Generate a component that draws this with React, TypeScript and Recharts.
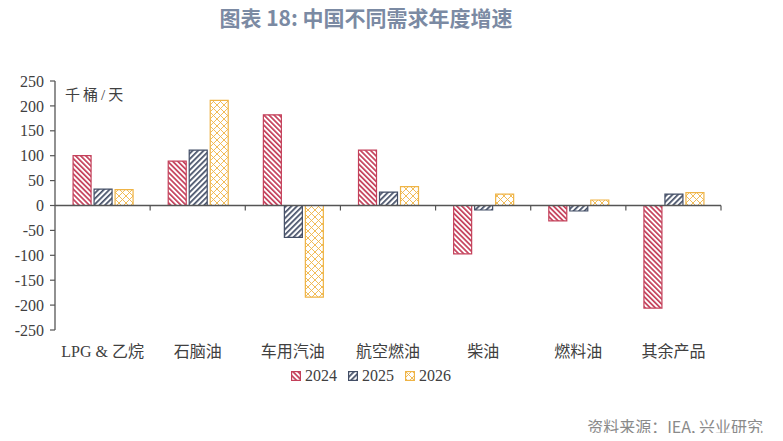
import React from 'react';
import { BarChart, Bar, XAxis, YAxis, ReferenceLine } from 'recharts';

const categories = ['LPG & 乙烷', '石脑油', '车用汽油', '航空燃油', '柴油', '燃料油', '其余产品'];
const v2024 = [100, 89, 182, 111, -97, -31, -206];
const v2025 = [33, 111, -64, 27, -9, -11, 23];
const v2026 = [32, 211, -184, 38, 23, 11, 26];
const seriesNames = ['2024', '2025', '2026'];
const yTicks = [250, 200, 150, 100, 50, 0, -50, -100, -150, -200, -250];

const COLORS = { '2024': '#c4405a', '2025': '#434e66', '2026': '#efb446' };
const AXIS = '#555555';
const TXT = '#404040';
const SERIF = '"Liberation Serif", "Noto Sans CJK SC", serif';

const data = categories.map((c, i) => ({ name: c, '2024': v2024[i], '2025': v2025[i], '2026': v2026[i] }));

const Patterns = ({ prefix }: { prefix: string }) => (
  <defs>
    <pattern id={`${prefix}p2024`} patternUnits="userSpaceOnUse" width="3.6" height="3.6" patternTransform="rotate(-45)">
      <rect x="0" y="0" width="3.6" height="3.6" fill="#ffffff" />
      <rect x="0" y="0" width="1.7" height="3.6" fill={COLORS['2024']} />
    </pattern>
    <pattern id={`${prefix}p2025`} patternUnits="userSpaceOnUse" width="3.9" height="3.9" patternTransform="rotate(45)">
      <rect x="0" y="0" width="3.9" height="3.9" fill="#ffffff" />
      <rect x="0" y="0" width="1.7" height="3.9" fill={COLORS['2025']} />
    </pattern>
    <pattern id={`${prefix}p2026`} patternUnits="userSpaceOnUse" width="7" height="7">
      <rect x="0" y="0" width="7" height="7" fill="#ffffff" />
      <path d="M0,0 L7,7 M7,0 L0,7" stroke={COLORS['2026']} strokeWidth="0.9" fill="none" />
    </pattern>
  </defs>
);

const ZeroAxis = (props: any) => {
  const { x1, y1, x2, y2 } = props;
  const n = categories.length;
  const ticks = [];
  for (let i = 1; i <= n; i++) {
    const x = x1 + ((x2 - x1) * i) / n;
    ticks.push(<line key={i} x1={x} y1={y1} x2={x} y2={y1 + 5} stroke={AXIS} strokeWidth={1.2} />);
  }
  return (
    <g>
      <line x1={x1} y1={y1} x2={x2} y2={y2} stroke={AXIS} strokeWidth={1.3} />
      {ticks}
    </g>
  );
};

export default function App() {
  return (
    <div style={{ position: 'relative', width: 783, height: 441, margin: -8, background: '#ffffff', overflow: 'hidden' }}>
      <div
        style={{
          position: 'absolute',
          left: 0,
          top: 3,
          width: 732,
          textAlign: 'center',
          fontFamily: '"Noto Sans CJK SC", sans-serif',
          fontWeight: 700,
          fontSize: 21,
          color: '#7b8aa3',
          lineHeight: '28px',
        }}
      >
        图表 18: 中国不同需求年度增速
      </div>
      <BarChart
        width={783}
        height={441}
        data={data}
        margin={{ top: 81, right: 62, bottom: 81, left: 0 }}
        barCategoryGap="19%"
        barGap={3}
      >
        <Patterns prefix="c" />
        <XAxis
          dataKey="name"
          axisLine={false}
          tickLine={false}
          tickSize={0}
          tickMargin={16}
          height={30}
          interval={0}
          tick={{ fill: TXT, fontSize: 16, fontFamily: SERIF }}
        />
        <YAxis
          domain={[-250, 250]}
          ticks={yTicks}
          width={55}
          interval={0}
          tickSize={5}
          tickMargin={6}
          axisLine={{ stroke: AXIS, strokeWidth: 1.3 }}
          tickLine={{ stroke: AXIS, strokeWidth: 1.2 }}
          tick={{ fill: TXT, fontSize: 16, fontFamily: SERIF }}
        />
        {seriesNames.map((s) => (
          <Bar
            key={s}
            dataKey={s}
            fill={`url(#cp${s})`}
            stroke={(COLORS as any)[s]}
            strokeWidth={1.2}
            isAnimationActive={false}
          />
        ))}
        <ReferenceLine y={0} shape={ZeroAxis} />
      </BarChart>
      <div
        style={{
          position: 'absolute',
          left: 65,
          top: 85,
          fontFamily: SERIF,
          fontSize: 15,
          letterSpacing: 3,
          color: TXT,
          lineHeight: '20px',
        }}
      >
        千桶/天
      </div>
      <div
        style={{
          position: 'absolute',
          left: 291,
          top: 366,
          display: 'flex',
          alignItems: 'center',
          fontFamily: SERIF,
          fontSize: 16,
          color: TXT,
          lineHeight: '20px',
        }}
      >
        {seriesNames.map((s) => (
          <div key={s} style={{ display: 'flex', alignItems: 'center', marginRight: 11 }}>
            <svg width={10} height={10} style={{ marginRight: 4 }}>
              <Patterns prefix={`l${s}`} />
              <rect x={0.6} y={0.6} width={8.8} height={8.8} fill={`url(#l${s}p${s})`} stroke={(COLORS as any)[s]} strokeWidth={1.2} />
            </svg>
            <span>{s}</span>
          </div>
        ))}
      </div>
      <div
        style={{
          position: 'absolute',
          right: 20,
          top: 415,
          fontFamily: '"Noto Sans CJK SC", sans-serif',
          fontSize: 16,
          color: '#8a8a8a',
          lineHeight: '22px',
        }}
      >
        资料来源：IEA, 兴业研究
      </div>
    </div>
  );
}
